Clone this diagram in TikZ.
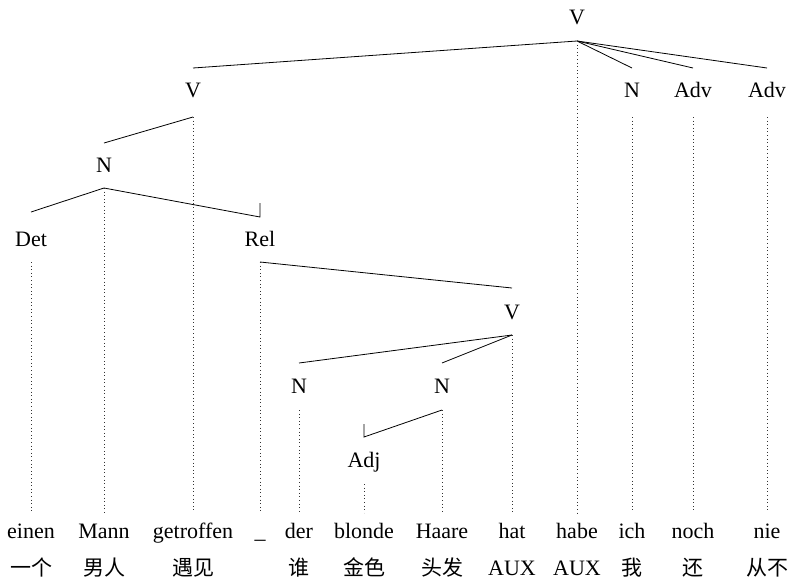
\documentclass[tikz,border=0pt]{standalone}
\usepackage{fontspec}
\setmainfont{Liberation Serif}
\newfontfamily\cjk{Noto Sans CJK SC}
\begin{document}
\begin{tikzpicture}[x=1pt,y=-1pt,
  cat/.style={anchor=base,font=\fontsize{22}{24}\selectfont,inner sep=0pt},
  word/.style={anchor=base,font=\fontsize{22}{24}\selectfont,text height=15pt,text depth=4pt,inner xsep=0pt,inner ysep=10pt},
  gloss/.style={anchor=base,font=\cjk\fontsize{21}{24}\selectfont,inner sep=0pt},
  glossl/.style={anchor=base,font=\fontsize{22}{24}\selectfont,inner sep=0pt},
  edge/.style={line width=0.8pt},
  proj/.style={line width=0.6pt,dash pattern=on 0.6pt off 3pt,black!80}]
\useasboundingbox (0,0) rectangle (792,582);

% category labels
\node[cat] (vtop) at (577,24) {V};
\node[cat] (v1)   at (193,97) {V};
\node[cat] (n1)   at (632,97) {N};
\node[cat] (adv1) at (693,97) {Adv};
\node[cat] (adv2) at (767,97) {Adv};
\node[cat] (n2)   at (104,172) {N};
\node[cat] (det)  at (31,246) {Det};
\node[cat] (rel)  at (260,246) {Rel};
\node[cat] (v2)   at (512,319) {V};
\node[cat] (n3)   at (299,393) {N};
\node[cat] (n4)   at (442,393) {N};
\node[cat] (adj)  at (364,467) {Adj};

% attachment points
\coordinate (vtop-b) at (577,41);
\coordinate (v1-t) at (193,68);   \coordinate (v1-b) at (193,117);
\coordinate (n1-t) at (632,68);   \coordinate (n1-b) at (632,117);
\coordinate (adv1-t) at (693,68); \coordinate (adv1-b) at (693,117);
\coordinate (adv2-t) at (767,68); \coordinate (adv2-b) at (767,117);
\coordinate (n2-t) at (104,143);  \coordinate (n2-b) at (104,188);
\coordinate (det-t) at (31,212);  \coordinate (det-b) at (31,262);
\coordinate (rel-t) at (260,217); \coordinate (rel-tick) at (260,203); \coordinate (rel-b) at (260,262);
\coordinate (v2-t) at (512,288);  \coordinate (v2-b) at (512,335);
\coordinate (n3-t) at (299,363);  \coordinate (n3-b) at (299,410);
\coordinate (n4-t) at (442,363);  \coordinate (n4-b) at (442,410);
\coordinate (adj-t) at (364,437); \coordinate (adj-tick) at (364,424); \coordinate (adj-b) at (364,484);

% words
\node[word] (w1)  at (31,538)  {einen};
\node[word] (w2)  at (104,538) {Mann};
\node[word] (w3)  at (193,538) {getroffen};
\node[word] (w4)  at (260,538) {\_};
\node[word] (w5)  at (299,538) {der};
\node[word] (w6)  at (364,538) {blonde};
\node[word] (w7)  at (442,538) {Haare};
\node[word] (w8)  at (512,538) {hat};
\node[word] (w9)  at (577,538) {habe};
\node[word] (w10) at (632,538) {ich};
\node[word] (w11) at (693,538) {noch};
\node[word] (w12) at (767,538) {nie};

% glosses
\node[gloss]  (g1)  at (31,575)  {一个};
\node[gloss]  (g2)  at (104,575) {男人};
\node[gloss]  (g3)  at (193,575) {遇见};
\node[gloss]  (g5)  at (299,575) {谁};
\node[gloss]  (g6)  at (364,575) {金色};
\node[gloss]  (g7)  at (442,575) {头发};
\node[glossl] (g8)  at (512,575) {AUX};
\node[glossl] (g9)  at (577,575) {AUX};
\node[gloss]  (g10) at (632,575) {我};
\node[gloss]  (g11) at (693,575) {还};
\node[gloss]  (g12) at (767,575) {从不};

% edges
\draw[edge] (vtop-b) -- (v1-t);
\draw[edge] (vtop-b) -- (n1-t);
\draw[edge] (vtop-b) -- (adv1-t);
\draw[edge] (vtop-b) -- (adv2-t);
\draw[edge] (v1-b) -- (n2-t);
\draw[edge] (n2-b) -- (det-t);
\draw[edge] (n2-b) -- (rel-t) -- (rel-tick);
\draw[edge] (rel-b) -- (v2-t);
\draw[edge] (v2-b) -- (n3-t);
\draw[edge] (v2-b) -- (n4-t);
\draw[edge] (n4-b) -- (adj-t) -- (adj-tick);

% projection lines
\draw[proj] (vtop-b) -- (vtop-b |- w9.north);
\draw[proj] (v1-b) -- (v1-b |- w3.north);
\draw[proj] (n1-b) -- (n1-b |- w10.north);
\draw[proj] (adv1-b) -- (adv1-b |- w11.north);
\draw[proj] (adv2-b) -- (adv2-b |- w12.north);
\draw[proj] (n2-b) -- (n2-b |- w2.north);
\draw[proj] (det-b) -- (det-b |- w1.north);
\draw[proj] (rel-b) -- (rel-b |- w4.north);
\draw[proj] (v2-b) -- (v2-b |- w8.north);
\draw[proj] (n3-b) -- (n3-b |- w5.north);
\draw[proj] (n4-b) -- (n4-b |- w7.north);
\draw[proj] (adj-b) -- (adj-b |- w6.north);
\end{tikzpicture}
\end{document}
